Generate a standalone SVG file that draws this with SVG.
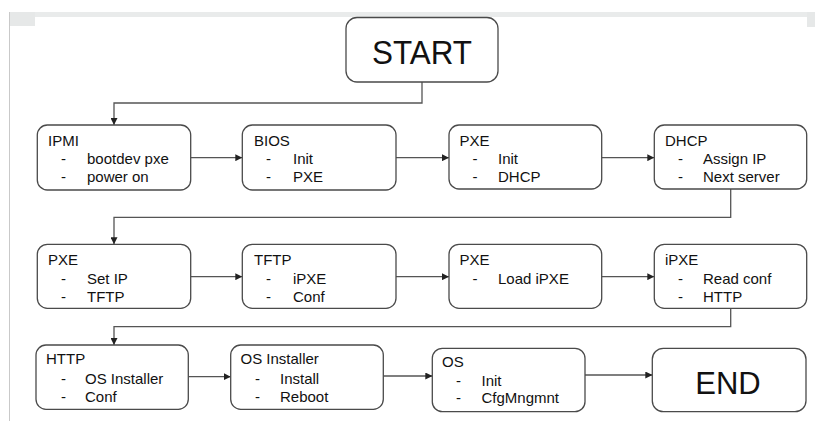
<svg xmlns="http://www.w3.org/2000/svg" width="815" height="421" viewBox="0 0 815 421">
<style>
.box{fill:#fff;stroke:#4a4a4a;stroke-width:1.3}
.t{font-family:"Liberation Sans",Arial,sans-serif;font-size:15px;fill:#111}
.big{font-family:"Liberation Sans",Arial,sans-serif;font-size:32px;fill:#111;text-anchor:middle}
.c{fill:none;stroke:#555;stroke-width:1.3}
</style>
<defs>
<marker id="ah" viewBox="0 0 10 10" refX="10" refY="5" markerWidth="7" markerHeight="7" markerUnits="userSpaceOnUse" orient="auto">
<path d="M0,0 L10,5 L0,10 z" fill="#222"/>
</marker>
</defs>
<rect width="815" height="421" fill="#fff"/>
<g id="frame">
<rect x="9" y="12" width="806" height="5" fill="#e9ebeb"/>
<rect x="9" y="12" width="26" height="14" fill="#e6e8e8"/>
<rect x="807" y="12" width="8" height="15" fill="#e6e8e8"/>
<line x1="9.5" y1="12" x2="9.5" y2="421" stroke="#c9c9c9" stroke-width="1"/>
</g>
<g id="connectors">
<path class="c" d="M422,82 V103 H114 V125" marker-end="url(#ah)"/>
<path class="c" d="M190.7,157.7 H242.3" marker-end="url(#ah)"/>
<path class="c" d="M396,157.7 H449" marker-end="url(#ah)"/>
<path class="c" d="M601.7,157.7 H654.3" marker-end="url(#ah)"/>
<path class="c" d="M730.7,189 V217.3 H114 V244.3" marker-end="url(#ah)"/>
<path class="c" d="M190.7,276.7 H242.3" marker-end="url(#ah)"/>
<path class="c" d="M396,276.7 H449" marker-end="url(#ah)"/>
<path class="c" d="M601.7,276.7 H654.3" marker-end="url(#ah)"/>
<path class="c" d="M730.7,308.3 V326.7 H114 V345" marker-end="url(#ah)"/>
<path class="c" d="M188.3,376.7 H230.7" marker-end="url(#ah)"/>
<path class="c" d="M383.3,376 H432.3" marker-end="url(#ah)"/>
<path class="c" d="M585,375 H652.3" marker-end="url(#ah)"/>
</g>
<g id="start">
<rect class="box" x="346" y="17.5" width="152" height="64.5" rx="11"/>
<text class="big" x="422" y="63.5" style="font-size:33.5px" textLength="100" lengthAdjust="spacingAndGlyphs">START</text>
</g>
<g id="ipmi">
<rect class="box" x="37.3" y="125" width="153.4" height="65" rx="10"/>
<text class="t" x="48" y="145.5">IPMI</text>
<text class="t" x="61" y="164">-</text><text class="t" x="87" y="164">bootdev pxe</text>
<text class="t" x="61" y="181.5">-</text><text class="t" x="87" y="181.5">power on</text>
</g>
<g id="bios">
<rect class="box" x="242.3" y="125" width="153.7" height="65" rx="10"/>
<text class="t" x="254" y="145.5">BIOS</text>
<text class="t" x="266" y="164">-</text><text class="t" x="293" y="164">Init</text>
<text class="t" x="266" y="181.5">-</text><text class="t" x="293" y="181.5">PXE</text>
</g>
<g id="pxe1">
<rect class="box" x="449" y="125" width="152.7" height="64" rx="10"/>
<text class="t" x="459.5" y="145.5">PXE</text>
<text class="t" x="472.5" y="164">-</text><text class="t" x="498" y="164">Init</text>
<text class="t" x="472.5" y="181.5">-</text><text class="t" x="498" y="181.5">DHCP</text>
</g>
<g id="dhcp">
<rect class="box" x="654.3" y="125" width="152.4" height="64" rx="10"/>
<text class="t" x="665" y="145.5">DHCP</text>
<text class="t" x="678" y="164">-</text><text class="t" x="703" y="164">Assign IP</text>
<text class="t" x="678" y="181.5">-</text><text class="t" x="703" y="181.5">Next server</text>
</g>
<g id="pxe2">
<rect class="box" x="37.3" y="244.3" width="153.4" height="64" rx="10"/>
<text class="t" x="48" y="265">PXE</text>
<text class="t" x="61" y="284">-</text><text class="t" x="87" y="284">Set IP</text>
<text class="t" x="61" y="302">-</text><text class="t" x="87" y="302">TFTP</text>
</g>
<g id="tftp">
<rect class="box" x="242.3" y="244.3" width="153.7" height="64" rx="10"/>
<text class="t" x="254" y="265">TFTP</text>
<text class="t" x="266" y="284">-</text><text class="t" x="293" y="284">iPXE</text>
<text class="t" x="266" y="302">-</text><text class="t" x="293" y="302">Conf</text>
</g>
<g id="pxe3">
<rect class="box" x="449" y="244.3" width="152.7" height="64" rx="10"/>
<text class="t" x="459.5" y="265">PXE</text>
<text class="t" x="472.5" y="284">-</text><text class="t" x="498" y="284">Load iPXE</text>
</g>
<g id="ipxe">
<rect class="box" x="654.3" y="244.3" width="152.4" height="64" rx="10"/>
<text class="t" x="665" y="265">iPXE</text>
<text class="t" x="678" y="284">-</text><text class="t" x="703" y="284">Read conf</text>
<text class="t" x="678" y="302">-</text><text class="t" x="703" y="302">HTTP</text>
</g>
<g id="http">
<rect class="box" x="36" y="345" width="152.3" height="64.3" rx="10"/>
<text class="t" x="46" y="364">HTTP</text>
<text class="t" x="61" y="384">-</text><text class="t" x="85" y="384">OS Installer</text>
<text class="t" x="61" y="402">-</text><text class="t" x="85" y="402">Conf</text>
</g>
<g id="osinstaller">
<rect class="box" x="230.7" y="345" width="152.6" height="64.3" rx="10"/>
<text class="t" x="240.5" y="364">OS Installer</text>
<text class="t" x="255" y="384">-</text><text class="t" x="280" y="384">Install</text>
<text class="t" x="255" y="402">-</text><text class="t" x="280" y="402">Reboot</text>
</g>
<g id="os">
<rect class="box" x="432.3" y="348.3" width="152.7" height="63.4" rx="10"/>
<text class="t" x="442" y="367">OS</text>
<text class="t" x="456" y="385.5">-</text><text class="t" x="481.5" y="385.5">Init</text>
<text class="t" x="456" y="402.5">-</text><text class="t" x="481.5" y="402.5">CfgMngmnt</text>
</g>
<g id="end">
<rect class="box" x="652.3" y="348.3" width="153.7" height="63.4" rx="11"/>
<text class="big" x="728" y="393.5" style="font-size:31px">END</text>
</g>
</svg>
